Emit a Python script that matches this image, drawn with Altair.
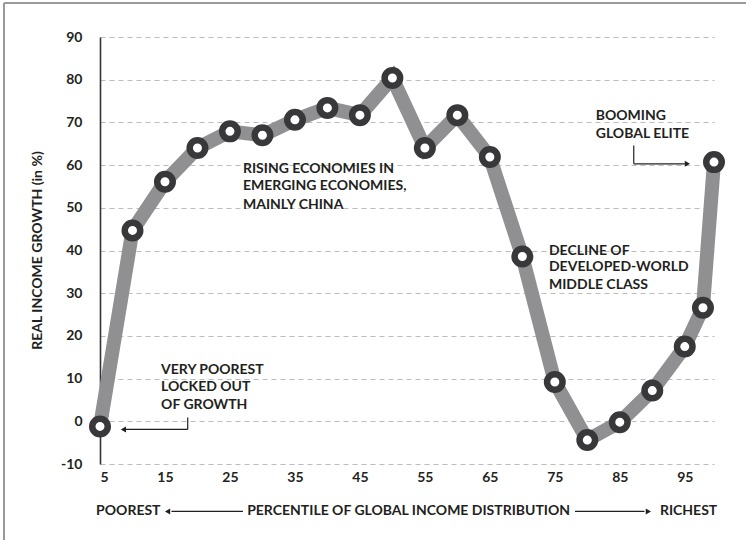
import altair as alt
import pandas as pd

# ---- data ----
percentile = [5, 10, 15, 20, 25, 30, 35, 40, 45, 50, 55, 60, 65, 70, 75, 80, 85, 90, 95, 97.8, 99.5]
growth = [-1.2, 44.7, 56.1, 64.0, 67.9, 67.0, 70.6, 73.4, 71.7, 80.4, 64.0, 71.7, 61.9,
          38.6, 9.2, -4.4, -0.2, 7.2, 17.5, 26.6, 60.7]

y_ticks = [-10, 0, 10, 20, 30, 40, 50, 60, 70, 80, 90]
x_ticks = [5, 15, 25, 35, 45, 55, 65, 75, 85, 95]

# annotation text lines (x, y in data units)
note_text = ["VERY POOREST", "LOCKED OUT", "OF GROWTH",
             "RISING ECONOMIES IN", "EMERGING ECONOMIES,", "MAINLY CHINA",
             "DECLINE OF", "DEVELOPED-WORLD", "MIDDLE CLASS",
             "BOOMING", "GLOBAL ELITE"]
note_x = [14.4, 14.4, 14.4, 27.0, 27.0, 27.0, 74.1, 74.1, 74.1, 81.3, 81.3]
note_y = [12.1, 8.1, 3.9, 59.2, 55.0, 50.7, 40.0, 36.1, 32.0, 71.6, 67.3]

# bottom "axis title" row
bottom_text = ["POOREST", "PERCENTILE OF GLOBAL INCOME DISTRIBUTION", "RICHEST"]
bottom_x = [4.4, 52.5, 100.0]
bottom_align = ["left", "center", "right"]
bottom_y = -21.1

# arrow segments (x, y, x2, y2)
seg_x = [18.5, 18.5, 87.15, 87.15, 27.0, 78.1]
seg_y = [0.9, -1.9, 64.6, 60.3, -21.1, -21.1]
seg_x2 = [18.5, 9.0, 87.15, 95.0, 16.0, 88.8]
seg_y2 = [-1.9, -1.9, 60.3, 60.3, -21.1, -21.1]
# arrow heads
head_x = [8.6, 95.4, 15.4, 89.4]
head_y = [-1.9, 60.3, -21.1, -21.1]
head_shape = ["triangle-left", "triangle-right", "triangle-left", "triangle-right"]

FONT = "Lato"
WEIGHT = 700
TEXT = "#231f20"

df = pd.DataFrame({"p": percentile, "g": growth})
notes = pd.DataFrame({"t": note_text, "x": note_x, "y": note_y})
bottom = pd.DataFrame({"t": bottom_text, "x": bottom_x, "a": bottom_align, "y": [bottom_y] * 3})
segs = pd.DataFrame({"x": seg_x, "y": seg_y, "x2": seg_x2, "y2": seg_y2})
heads = pd.DataFrame({"x": head_x, "y": head_y, "s": head_shape})

xs = alt.Scale(domain=[5, 99.5], nice=False, zero=False)
ys = alt.Scale(domain=[-10, 90], nice=False, zero=False)

base = alt.Chart(df)

line = base.mark_line(color="#909092", strokeWidth=14, strokeJoin="miter").encode(
    x=alt.X("p:Q", scale=xs,
            axis=alt.Axis(values=x_ticks, grid=False, domain=False, ticks=False,
                          labelPadding=6, labelFontSize=14, labelFont=FONT,
                          labelFontWeight=WEIGHT, labelColor=TEXT, title=None)),
    y=alt.Y("g:Q", scale=ys,
            axis=alt.Axis(values=y_ticks, grid=True, gridDash=[5, 4], gridColor="#bcbcbc",
                          gridWidth=1.2, domain=True, domainColor="#333333", domainWidth=1.6,
                          ticks=False, labelPadding=18, labelFontSize=14, labelFont=FONT,
                          labelFontWeight=WEIGHT, labelColor=TEXT,
                          labelExpr="'' + datum.value",
                          title="REAL INCOME GROWTH (in %)", titleFont=FONT, titleFontSize=14,
                          titleFontWeight=WEIGHT, titleColor=TEXT, titleAngle=-90,
                          titleX=-63, titleY=213, titleAlign="center", titleBaseline="middle")),
)

dots = base.mark_circle(size=240, fill="white", stroke="#38383a", strokeWidth=6.5, opacity=1).encode(
    x=alt.X("p:Q", scale=xs), y=alt.Y("g:Q", scale=ys)
)

note_layer = alt.Chart(notes).mark_text(align="left", baseline="middle", font=FONT,
                                         fontSize=14, fontWeight=WEIGHT, color=TEXT).encode(
    x=alt.X("x:Q", scale=xs), y=alt.Y("y:Q", scale=ys), text="t:N"
)

bottom_layers = []
for al in ["left", "center", "right"]:
    bottom_layers.append(
        alt.Chart(bottom).transform_filter(alt.datum.a == al).mark_text(
            align=al, baseline="middle", font=FONT, fontSize=14, fontWeight=WEIGHT, color=TEXT
        ).encode(x=alt.X("x:Q", scale=xs), y=alt.Y("y:Q", scale=ys), text="t:N")
    )

seg_layer = alt.Chart(segs).mark_rule(color="#231f20", strokeWidth=1.2).encode(
    x=alt.X("x:Q", scale=xs), y=alt.Y("y:Q", scale=ys), x2="x2:Q", y2="y2:Q"
)

head_layer = alt.Chart(heads).mark_point(filled=True, color="#231f20", size=36, opacity=1).encode(
    x=alt.X("x:Q", scale=xs), y=alt.Y("y:Q", scale=ys),
    shape=alt.Shape("s:N", scale=None, legend=None),
)

# frame lines (decoration) at the image's top and left edges
frame_top = alt.Chart(df).mark_rule(color="#9a9a9a", strokeWidth=1.5).encode(
    x=alt.value(-96), x2=alt.value(660), y=alt.value(-34)
)
frame_left = alt.Chart(df).mark_rule(color="#9a9a9a", strokeWidth=1.5).encode(
    x=alt.value(-96), y=alt.value(-34), y2=alt.value(520)
)

chart = alt.layer(frame_top, frame_left, line, dots, seg_layer, head_layer, note_layer,
                  *bottom_layers).properties(
    width=614, height=427,
    autosize=alt.AutoSizeParams(type="none"),
    padding={"left": 100, "top": 37, "right": 32, "bottom": 76},
    background="white",
).configure_view(stroke=None)

chart.save("out.html", embed_options={"renderer": "svg", "actions": False})
